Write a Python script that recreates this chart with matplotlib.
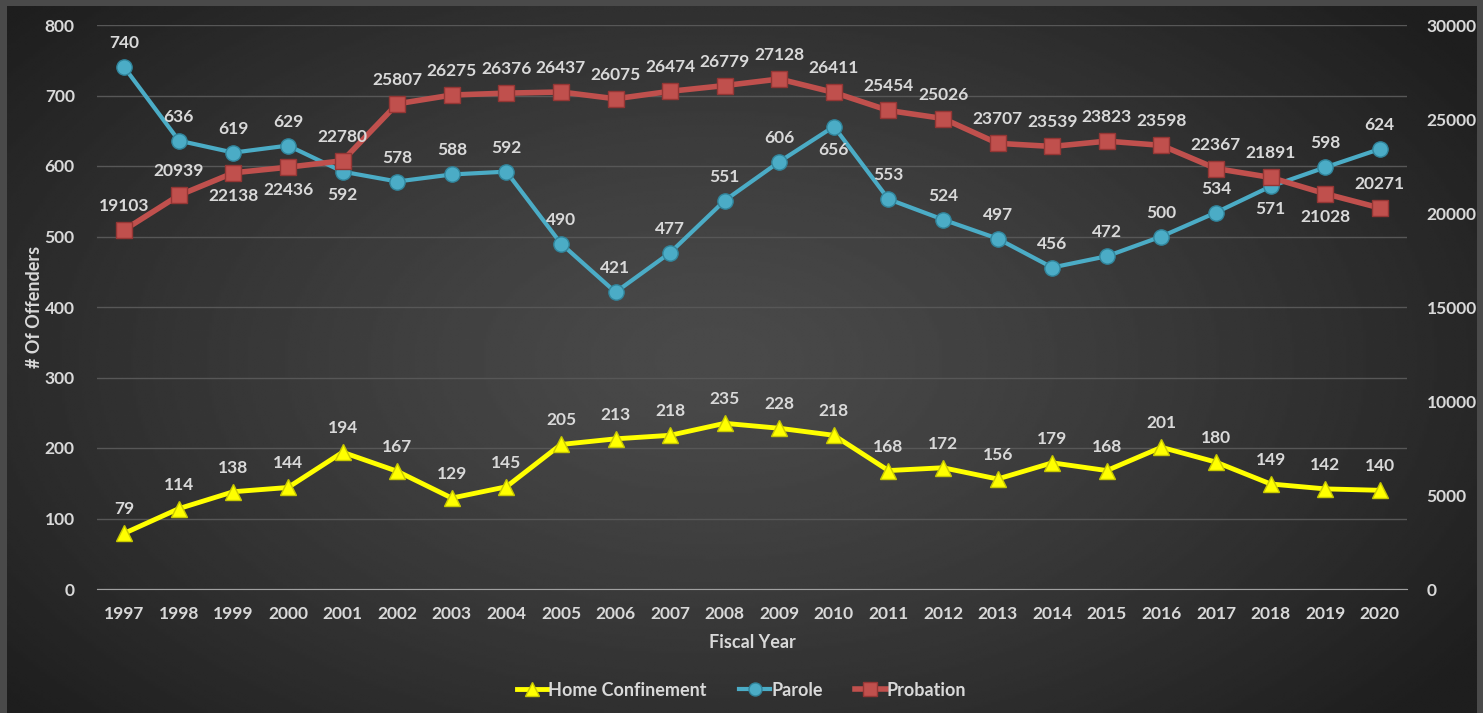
import matplotlib.pyplot as plt
import numpy as np

# data
years = [str(y) for y in range(1997, 2021)]
home_conf = [79, 114, 138, 144, 194, 167, 129, 145, 205, 213, 218, 235,
             228, 218, 168, 172, 156, 179, 168, 201, 180, 149, 142, 140]
parole = [740, 636, 619, 629, 592, 578, 588, 592, 490, 421, 477, 551,
          606, 656, 553, 524, 497, 456, 472, 500, 534, 571, 598, 624]
probation = [19103, 20939, 22138, 22436, 22780, 25807, 26275, 26376, 26437,
             26075, 26474, 26779, 27128, 26411, 25454, 25026, 23707, 23539,
             23823, 23598, 22367, 21891, 21028, 20271]

# which labels sit below the marker
parole_below = {4, 13, 21}
probation_below = {2, 3, 22}

TXT = '#d9d9d9'
plt.rcParams['font.family'] = ['Lato', 'DejaVu Sans']
plt.rcParams['font.weight'] = 'bold'

fig = plt.figure(figsize=(14.83, 7.13), dpi=100)
fig.patch.set_facecolor('#4a4a4a')

# radial gradient background panel
bg = fig.add_axes([7 / 1483, 0, 1470 / 1483, 707 / 713])
bg.set_axis_off()
yy, xx = np.mgrid[0:1:300j, 0:1:600j]
r = np.sqrt(((xx - 0.48) / 0.62) ** 2 + ((yy - 0.5) / 0.75) ** 2)
shade = 0.29 - 0.17 * np.clip(r, 0, 1) ** 1.3
bg.imshow(shade, cmap='gray', vmin=0, vmax=1, aspect='auto',
          extent=(0, 1, 0, 1), interpolation='bilinear')

ax = fig.add_axes([97 / 1483, 124 / 713, 1310 / 1483, 564 / 713])
ax.set_facecolor('none')
ax2 = ax.twinx()
ax2.set_facecolor('none')

x = np.arange(len(years))

l1, = ax.plot(x, home_conf, color='#ffff00', lw=3.5, marker='^', ms=12,
              mfc='#ffff00', mec='#c8c800', mew=1, label='Home Confinement',
              zorder=3)
l2, = ax.plot(x, parole, color='#4bacc6', lw=3, marker='o', ms=11,
              mfc='#4bacc6', mec='#31859c', mew=1, label='Parole', zorder=3)
l3, = ax2.plot(x, probation, color='#c0504d', lw=4, marker='s', ms=12,
               mfc='#c0504d', mec='#943634', mew=1, label='Probation',
               zorder=3)

lab = dict(ha='center', va='center', color=TXT, fontsize=12.5,
           fontweight='bold', textcoords='offset pixels')
for i, v in enumerate(home_conf):
    ax.annotate(str(v), (x[i], v), xytext=(0, 24), **lab)
for i, v in enumerate(parole):
    dy = -23 if i in parole_below else 24
    ax.annotate(str(v), (x[i], v), xytext=(0, dy), **lab)
for i, v in enumerate(probation):
    dy = -23 if i in probation_below else 24
    ax2.annotate(str(v), (x[i], v), xytext=(0, dy), **lab)

ax.set_xlim(-0.5, len(years) - 0.5)
ax.set_ylim(0, 800)
ax.set_yticks(range(0, 801, 100))
ax2.set_ylim(0, 30000)
ax2.set_yticks(range(0, 30001, 5000))
ax.set_xticks(x)
ax.set_xticklabels(years)

ax.grid(axis='y', color='#575757', lw=1)
ax.set_axisbelow(True)
for a in (ax, ax2):
    for s in a.spines.values():
        s.set_visible(False)
    a.tick_params(length=0, colors=TXT, labelsize=12.5)
ax.spines['bottom'].set_visible(True)
ax.spines['bottom'].set_color('#a0a0a0')
ax.tick_params(axis='x', pad=12)
ax.tick_params(axis='y', pad=16)
ax2.tick_params(axis='y', pad=14)

ax.set_xlabel('Fiscal Year', color=TXT, fontsize=13, fontweight='bold',
              labelpad=9)
ax.set_ylabel('# Of Offenders', color=TXT, fontsize=13, fontweight='bold',
              labelpad=1)

leg = fig.legend(handles=[l1, l2, l3], loc='center', ncol=3,
                 bbox_to_anchor=(0.5, 23 / 713), frameon=False,
                 fontsize=13, handlelength=1.7, handletextpad=0.05,
                 columnspacing=1.8, markerscale=0.85)
for t in leg.get_texts():
    t.set_color(TXT)
    t.set_fontweight('bold')

fig.savefig('out.png', dpi=100, facecolor=fig.get_facecolor())
